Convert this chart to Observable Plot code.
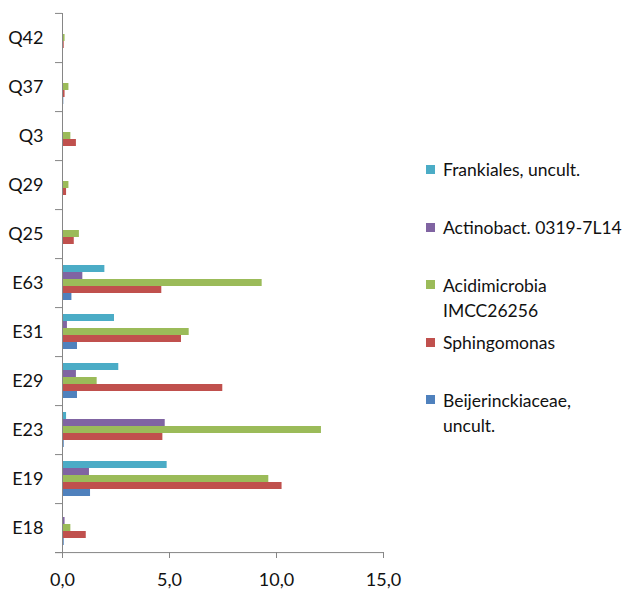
<!DOCTYPE html>
<html>
<head>
<meta charset="utf-8">
<script src="https://cdn.jsdelivr.net/npm/d3@7"></script>
<script src="https://cdn.jsdelivr.net/npm/@observablehq/plot@0.6"></script>
<style>
  html, body { margin: 0; padding: 0; background: #fff; }
  #wrap { position: relative; width: 632px; height: 592px; font-family: Lato, sans-serif; }
  #wrap svg { position: absolute; left: 0; top: 0; }
  .legend { position: absolute; left: 426px; top: 0; width: 206px; }
  .item { position: absolute; left: 0; width: 206px; font-size: 17.5px; line-height: 25px; color: #111; }
  .sw { position: absolute; left: 0; top: 7.5px; width: 9px; height: 9px; }
  .lbl { position: absolute; left: 17px; white-space: nowrap; }
</style>
</head>
<body>
<div id="wrap"></div>
<script>
// Samples, top to bottom
const categories = ["Q42", "Q37", "Q3", "Q29", "Q25", "E63", "E31", "E29", "E23", "E19", "E18"];

// Taxa, drawn top to bottom inside each sample group
const series = [
  "Frankiales, uncult.",
  "Actinobact. 0319-7L14",
  "Acidimicrobia IMCC26256",
  "Sphingomonas",
  "Beijerinckiaceae, uncult."
];
const colors = ["#4BACC6", "#8064A2", "#9BBB59", "#C0504D", "#4F81BD"];

// Relative abundance (%) per sample, in the order of `categories`
const frankiales       = [0, 0, 0, 0, 0, 1.98, 2.43, 2.63, 0.19, 4.89, 0];
const actinobact       = [0, 0, 0, 0, 0, 0.95, 0.23, 0.65, 4.80, 1.26, 0.12];
const acidimicrobia    = [0.12, 0.30, 0.39, 0.30, 0.79, 9.33, 5.92, 1.62, 12.10, 9.64, 0.39];
const sphingomonas     = [0.08, 0.12, 0.65, 0.19, 0.55, 4.64, 5.56, 7.49, 4.69, 10.26, 1.11];
const beijerinckiaceae = [0, 0.06, 0, 0, 0, 0.44, 0.70, 0.70, 0.08, 1.31, 0.08];

const xTicks = [0, 5, 10, 15];

// Legend line breaks
const legendLines = [
  ["Frankiales, uncult."],
  ["Actinobact. 0319-7L14"],
  ["Acidimicrobia", "IMCC26256"],
  ["Sphingomonas"],
  ["Beijerinckiaceae,", "uncult."]
];

const seriesValues = [frankiales, actinobact, acidimicrobia, sphingomonas, beijerinckiaceae];
const rows = [];
series.forEach((s, si) => {
  categories.forEach((c, ci) => rows.push({category: c, series: s, value: seriesValues[si][ci]}));
});

const W = 632, H = 592;
const M = {top: 12, right: 249, bottom: 39, left: 62};
// height of one sample band (facet)
const band = (H - M.top - M.bottom) / categories.length;

const axisGray = "#868686";
const fmt = d => d.toFixed(1).replace(".", ",");
const lastCat = categories[categories.length - 1];

const chart = Plot.plot({
  width: W,
  height: H,
  marginLeft: M.left,
  marginRight: M.right,
  marginTop: M.top,
  marginBottom: M.bottom,
  style: {fontFamily: "Lato, sans-serif", fontSize: "18px", color: "#111", background: "transparent"},
  fy: {domain: categories, padding: 0, label: null, tickSize: 0, tickPadding: 19},
  y: {domain: series, padding: 0, inset: 5.4, axis: null},
  x: {domain: [0, 15], axis: null},
  color: {domain: series, range: colors},
  marks: [
    Plot.barX(rows, {x: "value", y: "series", fy: "category", fill: "series"}),
    // vertical category axis
    Plot.ruleX([0], {stroke: axisGray}),
    // boundary ticks between samples
    Plot.ruleY(categories, {fy: d => d, y: null, x1: 0, x2: 0, insetLeft: -7, dy: band / 2, stroke: axisGray}),
    Plot.ruleY(categories.slice(0, 1), {fy: d => d, y: null, x1: 0, x2: 0, insetLeft: -7, dy: -band / 2, stroke: axisGray}),
    // horizontal value axis line
    Plot.ruleY([lastCat], {fy: d => d, y: null, x1: 0, x2: 15, insetLeft: -7, dy: band / 2, stroke: axisGray}),
    Plot.axisX(xTicks, {anchor: "bottom", tickFormat: fmt, tickSize: 6, tickPadding: 15, label: null, stroke: axisGray, fill: "#111"})
  ]
});

const wrap = document.getElementById("wrap");
wrap.appendChild(chart);

// Legend on the right
const legend = document.createElement("div");
legend.className = "legend";
series.forEach((s, i) => {
  const item = document.createElement("div");
  item.className = "item";
  item.style.top = (157.4 + 57.6 * i) + "px";
  const sw = document.createElement("div");
  sw.className = "sw";
  sw.style.background = colors[i];
  const lbl = document.createElement("div");
  lbl.className = "lbl";
  lbl.innerHTML = legendLines[i].join("<br>");
  item.appendChild(sw);
  item.appendChild(lbl);
  legend.appendChild(item);
});
wrap.appendChild(legend);
</script>
</body>
</html>
